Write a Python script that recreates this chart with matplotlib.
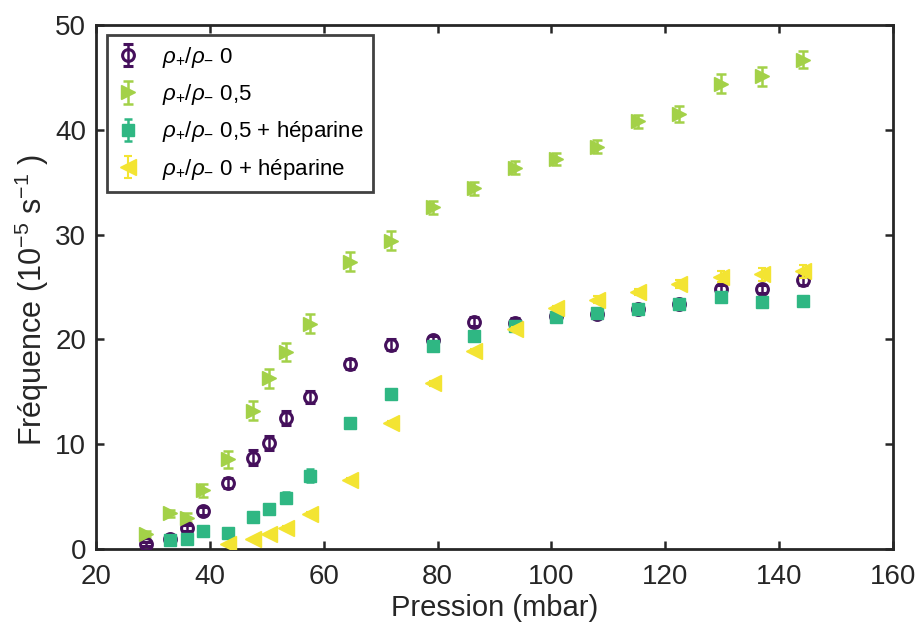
import matplotlib
matplotlib.use("Agg")
import matplotlib.pyplot as plt
import numpy as np

plt.rcParams['font.family'] = ['Liberation Sans', 'DejaVu Sans']
plt.rcParams['mathtext.fontset'] = 'custom'
plt.rcParams['mathtext.rm'] = 'Liberation Sans'
plt.rcParams['mathtext.it'] = 'Liberation Sans:italic'
plt.rcParams['mathtext.bf'] = 'Liberation Sans:bold'

# Pressure grid (mbar)
pression = [28.8, 33.0, 36.0, 38.8, 43.2, 47.5, 50.4, 53.3, 57.6, 64.7, 71.9,
            79.2, 86.4, 93.6, 100.8, 108.0, 115.2, 122.4, 129.7, 136.9, 144.1]

# rho+/rho- 0
freq_0 = [0.45, 0.95, 2.0, 3.65, 6.3, 8.7, 10.1, 12.5, 14.5, 17.65, 19.5,
          19.9, 21.7, 21.6, 22.2, 22.4, 22.9, 23.4, 24.8, 24.8, 25.7]
err_0 = [0.2, 0.2, 0.3, 0.4, 0.5, 0.7, 0.7, 0.7, 0.6, 0.5, 0.5,
         0.4, 0.4, 0.4, 0.4, 0.4, 0.4, 0.4, 0.4, 0.4, 0.5]

# rho+/rho- 0,5
freq_05 = [1.4, 3.4, 3.0, 5.6, 8.55, 13.2, 16.3, 18.8, 21.5, 27.4, 29.4,
           32.6, 34.4, 36.4, 37.2, 38.4, 40.8, 41.5, 44.4, 45.1, 46.7]
err_05 = [0.3, 0.3, 0.4, 0.6, 0.8, 0.9, 0.9, 0.9, 0.9, 0.9, 0.9,
          0.6, 0.6, 0.6, 0.6, 0.6, 0.6, 0.8, 0.9, 0.9, 0.8]

# rho+/rho- 0,5 + heparine
pression_05h = pression[1:]
freq_05h = [0.86, 0.98, 1.69, 1.5, 3.05, 3.8, 4.9, 7.0, 12.0, 14.8,
            19.4, 20.3, 21.3, 22.1, 22.5, 22.9, 23.4, 24.0, 23.6, 23.7]
err_05h = [0.2, 0.3, 0.3, 0.3, 0.4, 0.5, 0.5, 0.6, 0.5, 0.4,
           0.4, 0.4, 0.4, 0.4, 0.4, 0.4, 0.4, 0.3, 0.3, 0.3]

# rho+/rho- 0 + heparine
pression_0h = pression[4:]
freq_0h = [0.45, 0.95, 1.45, 2.05, 3.35, 6.6, 12.0, 15.8, 18.9, 21.0,
           23.0, 23.8, 24.5, 25.3, 26.0, 26.2, 26.5]
err_0h = [0.1, 0.1, 0.1, 0.1, 0.2, 0.2, 0.2, 0.2, 0.2, 0.2,
          0.2, 0.3, 0.3, 0.4, 0.5, 0.6, 0.6]

labels = [r'$\rho_{+}/\rho_{-}$ 0', r'$\rho_{+}/\rho_{-}$ 0,5',
          r'$\rho_{+}/\rho_{-}$ 0,5 + héparine', r'$\rho_{+}/\rho_{-}$ 0 + héparine']

c_purple = '#45105c'
c_green = '#a3d148'
c_teal = '#2fb783'
c_yellow = '#f3e432'

fig = plt.figure(figsize=(9.18, 6.28), dpi=100)
ax = fig.add_axes([0.1046, 0.1258, 0.8682, 0.8344])

ax.errorbar(pression, freq_0, yerr=err_0, fmt='o', color=c_purple, ms=8.5,
            mfc='none', mew=2.2, elinewidth=1.8, capsize=3.5, capthick=1.8,
            label=labels[0], zorder=3)
ax.errorbar(pression, freq_05, yerr=err_05, fmt='>', color=c_green, ms=10,
            mec=c_green, elinewidth=1.8, capsize=3.5, capthick=1.8,
            label=labels[1], zorder=3)
ax.errorbar(pression_05h, freq_05h, yerr=err_05h, fmt='s', color=c_teal, ms=8,
            elinewidth=1.8, capsize=3.0, capthick=1.8,
            label=labels[2], zorder=4)
ax.errorbar(pression_0h, freq_0h, yerr=err_0h, fmt='<', color=c_yellow, ms=11,
            elinewidth=1.5, capsize=3.0, capthick=1.5,
            label=labels[3], zorder=5)

ax.set_xlim(20, 160)
ax.set_ylim(0, 50)
ax.set_xticks([20, 40, 60, 80, 100, 120, 140, 160])
ax.set_yticks([0, 10, 20, 30, 40, 50])
ax.tick_params(direction='in', length=6, width=1.8, labelsize=20,
               top=True, right=True, colors='#262626', pad=7)
ax.tick_params(axis='x', pad=11)
for s in ax.spines.values():
    s.set_linewidth(2.0)
    s.set_color('#262626')

ax.set_xlabel('Pression (mbar)', fontsize=21, color='#262626', labelpad=3)
ax.set_ylabel('Fréquence (10$^{\\mathrm{-5}}$ s$^{\\mathrm{-1}}$ )',
              fontsize=22, color='#262626')
ax.yaxis.set_label_coords(-0.056, 0.475)

leg = ax.legend(loc='upper left', bbox_to_anchor=(0.014, 0.981), fontsize=16,
                frameon=True, fancybox=False, edgecolor='#111111',
                handlelength=1.0, handletextpad=1.0, borderpad=0.45,
                labelspacing=0.55, borderaxespad=0)
leg.get_frame().set_linewidth(2.0)

fig.savefig('out.png', dpi=100)
